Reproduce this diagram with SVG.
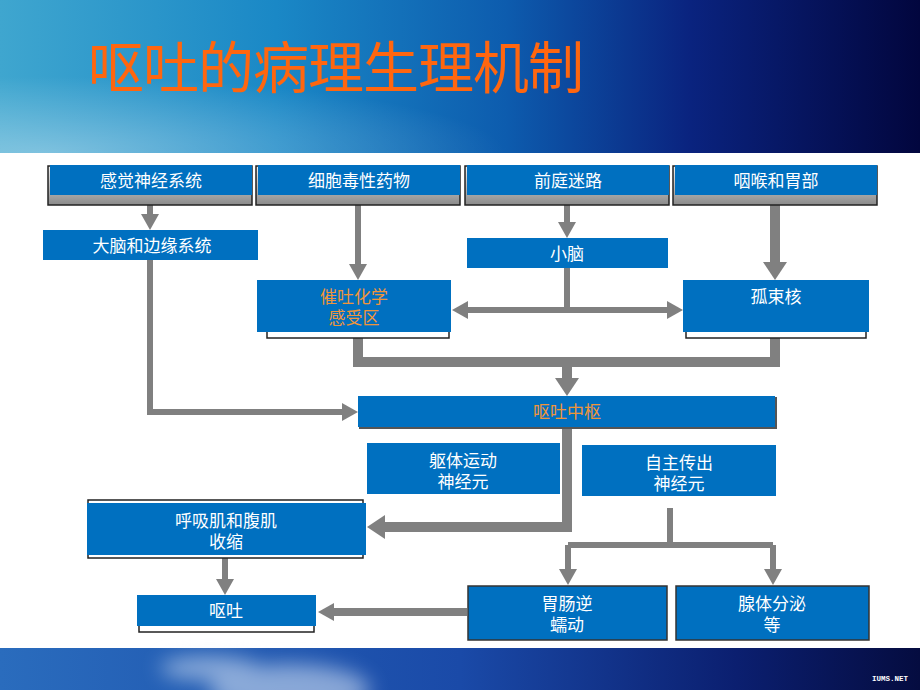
<svg xmlns="http://www.w3.org/2000/svg" width="920" height="690" viewBox="0 0 920 690">
<defs>
<linearGradient id="hdr" x1="0" y1="0" x2="1" y2="0">
<stop offset="0" stop-color="#3fa6cf"/>
<stop offset="0.3" stop-color="#1a88c6"/>
<stop offset="0.55" stop-color="#0d5cae"/>
<stop offset="0.75" stop-color="#0a237f"/>
<stop offset="1" stop-color="#02063e"/>
</linearGradient>
<radialGradient id="glow" cx="0.05" cy="1" r="0.5">
<stop offset="0" stop-color="#ffffff" stop-opacity="0.35"/>
<stop offset="1" stop-color="#ffffff" stop-opacity="0"/>
</radialGradient>
<linearGradient id="ftr" x1="0" y1="0" x2="1" y2="0">
<stop offset="0" stop-color="#2a6cbd"/>
<stop offset="0.5" stop-color="#1a4aa8"/>
<stop offset="0.8" stop-color="#0b1f70"/>
<stop offset="1" stop-color="#050c40"/>
</linearGradient>
<filter id="blur" x="-50%" y="-50%" width="200%" height="200%"><feGaussianBlur stdDeviation="10"/></filter>
<linearGradient id="gry" x1="0" y1="0" x2="0" y2="1">
<stop offset="0" stop-color="#f0f0f0"/>
<stop offset="1" stop-color="#8a8a8a"/>
</linearGradient>
<marker id="ah" markerUnits="userSpaceOnUse" markerWidth="16" markerHeight="18" viewBox="0 0 16 18" refX="1" refY="9" orient="auto-start-reverse">
<path d="M0,0 L16,9 L0,18 Z" fill="#808080"/>
</marker>
<marker id="ahL" markerUnits="userSpaceOnUse" markerWidth="18" markerHeight="24" viewBox="0 0 18 24" refX="1" refY="12" orient="auto-start-reverse">
<path d="M0,0 L18,12 L0,24 Z" fill="#808080"/>
</marker>
<style>
.b{fill:#0070c0;}
.t{font-family:"Noto Sans CJK SC","Noto Sans CJK TC",sans-serif;font-size:17px;fill:#ffffff;text-anchor:middle;}
.o{fill:#f0953a;}
.c{fill:none;stroke:#808080;stroke-width:6;}
.k{fill:none;stroke:#808080;stroke-width:10;}
.u{fill:#ffffff;stroke:#222;stroke-width:1.5;}
.g{fill:url(#gry);stroke:#222;stroke-width:1.5;}
</style>
</defs>
<rect width="920" height="690" fill="#ffffff"/>
<!-- header -->
<rect x="0" y="0" width="920" height="153" fill="url(#hdr)"/>
<rect x="0" y="0" width="920" height="153" fill="url(#glow)"/>
<text x="88" y="88" font-family="'Noto Sans CJK SC','Noto Sans CJK TC',sans-serif" font-size="56" letter-spacing="-1" fill="#ff660f">呕吐的病理生理机制</text>
<!-- footer -->
<rect x="0" y="648" width="920" height="42" fill="url(#ftr)"/>
<g filter="url(#blur)" fill="#dfeaf8" opacity="0.55">
<ellipse cx="290" cy="690" rx="80" ry="26"/>
<ellipse cx="210" cy="668" rx="50" ry="12"/>
</g>
<text x="872" y="681" font-family="'Liberation Mono',monospace" font-size="7.5" font-weight="bold" fill="#ffffff">IUMS.NET</text>

<!-- connectors -->
<g id="connectors">
<path class="c" d="M150,205 V215" marker-end="url(#ah)"/>
<path class="c" d="M358,205 V265" marker-end="url(#ah)"/>
<path class="c" d="M567,205 V223" marker-end="url(#ah)"/>
<path class="k" d="M775,205 V263" marker-end="url(#ahL)"/>
<path class="c" d="M567,268 V310"/>
<path class="c" d="M467,310 H668" marker-start="url(#ah)" marker-end="url(#ah)"/>
<path class="k" d="M358,338 V362 H775 V338"/>
<path class="k" d="M567,362 V379" marker-end="url(#ahL)"/>
<path class="c" d="M150,260 V412 H343" marker-end="url(#ah)"/>
<path class="k" d="M567,428 V527 H384" marker-end="url(#ahL)"/>
<path class="c" d="M670,508 V545"/>
<path class="c" d="M568,545 H773"/>
<path class="c" d="M568,545 V570" marker-end="url(#ah)"/>
<path class="c" d="M773,545 V570" marker-end="url(#ah)"/>
<path class="c" d="M225,558 V580" marker-end="url(#ah)"/>
<path class="c" d="M467,612 H333" style="stroke-width:8" marker-end="url(#ah)"/>
</g>

<!-- nodes -->
<g id="n-sensory">
<rect class="g" x="48" y="166" width="204" height="39"/>
<rect class="b" x="50" y="165" width="202" height="30"/>
<text class="t" x="151" y="187">感觉神经系统</text>
</g>
<g id="n-cytotoxic">
<rect class="g" x="256" y="166" width="204" height="39"/>
<rect class="b" x="258" y="165" width="202" height="30"/>
<text class="t" x="359" y="187">细胞毒性药物</text>
</g>
<g id="n-vestibular">
<rect class="g" x="465" y="166" width="204" height="39"/>
<rect class="b" x="467" y="165" width="202" height="30"/>
<text class="t" x="568" y="187">前庭迷路</text>
</g>
<g id="n-pharynx">
<rect class="g" x="673" y="166" width="204" height="39"/>
<rect class="b" x="675" y="165" width="202" height="30"/>
<text class="t" x="776" y="187">咽喉和胃部</text>
</g>
<g id="n-cortex">
<rect class="b" x="43" y="230" width="215" height="30"/>
<text class="t" x="152" y="252">大脑和边缘系统</text>
</g>
<g id="n-cerebellum">
<rect class="b" x="467" y="238" width="201" height="30"/>
<text class="t" x="567" y="260">小脑</text>
</g>
<g id="n-ctz">
<rect class="u" x="267" y="290" width="182" height="48"/>
<rect class="b" x="257" y="280" width="194" height="52"/>
<text class="t o" x="354" y="303">催吐化学<tspan x="354" dy="21">感受区</tspan></text>
</g>
<g id="n-nts">
<rect class="u" x="686" y="290" width="180" height="48"/>
<rect class="b" x="683" y="280" width="186" height="52"/>
<text class="t" x="776" y="303">孤束核</text>
</g>
<g id="n-center">
<rect x="359" y="397" width="418" height="32" fill="#555"/>
<rect class="b" x="358" y="396" width="417" height="31"/>
<text class="t o" x="567" y="418">呕吐中枢</text>
</g>
<g id="n-somatic">
<rect class="b" x="367" y="443" width="193" height="51"/>
<text class="t" x="463" y="467">躯体运动<tspan x="463" dy="21">神经元</tspan></text>
</g>
<g id="n-autonomic">
<rect class="b" x="582" y="445" width="194" height="51"/>
<text class="t" x="679" y="469">自主传出<tspan x="679" dy="21">神经元</tspan></text>
</g>
<g id="n-muscle">
<rect class="u" x="88" y="500" width="275" height="58"/>
<rect class="b" x="87" y="503" width="279" height="52"/>
<text class="t" x="226" y="527">呼吸肌和腹肌<tspan x="226" dy="21">收缩</tspan></text>
</g>
<g id="n-vomit">
<rect class="u" x="139" y="600" width="175" height="32"/>
<rect class="b" x="137" y="595" width="179" height="31"/>
<text class="t" x="226" y="617">呕吐</text>
</g>
<g id="n-gi">
<rect x="468" y="586" width="199" height="54" fill="#0070c0" stroke="#333" stroke-width="1.5"/>
<text class="t" x="567" y="610">胃肠逆<tspan x="567" dy="21">蠕动</tspan></text>
</g>
<g id="n-gland">
<rect x="676" y="586" width="193" height="54" fill="#0070c0" stroke="#333" stroke-width="1.5"/>
<text class="t" x="772" y="610">腺体分泌<tspan x="772" dy="21">等</tspan></text>
</g>
</svg>
